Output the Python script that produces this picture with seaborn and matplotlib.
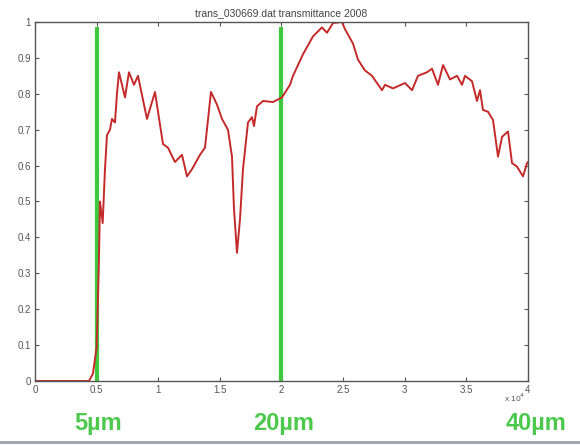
import matplotlib
matplotlib.use("Agg")
import matplotlib.pyplot as plt
import matplotlib.ticker as mticker
import matplotlib.transforms as mtrans
import seaborn as sns
import pandas as pd

# ---- data ----
x_vals = [0, 4382, 4700, 5006, 5193, 5274, 5493, 5680, 5842, 6085, 6248, 6491, 6653,
          6816, 7303, 7627, 8033, 8357, 9088, 9737, 10386, 10791, 11359, 11927,
          12333, 12739, 13388, 13794, 14280, 14767, 15173, 15660, 15984, 16147,
          16390, 16633, 16877, 17283, 17607, 17770, 18013, 18500, 19311, 20041,
          20691, 20934, 21746, 22557, 23287, 23693, 24180, 24910, 25153, 25802,
          26208, 26776, 27344, 27750, 28156, 28400, 29049, 30022, 30590, 31077,
          31807, 32213, 32700, 33106, 33674, 34242, 34648, 34891, 35459, 35864,
          36108, 36351, 36757, 37163, 37569, 37894, 38381, 38705, 39111, 39598,
          39922, 40000]
transmittance = [0.0, 0.0, 0.02, 0.095, 0.34, 0.50, 0.44, 0.59, 0.685, 0.70, 0.73, 0.72,
                 0.80, 0.86, 0.79, 0.86, 0.825, 0.85, 0.73, 0.805, 0.66, 0.65,
                 0.61, 0.63, 0.57, 0.59, 0.63, 0.65, 0.805, 0.77, 0.73, 0.70,
                 0.625, 0.48, 0.357, 0.45, 0.59, 0.72, 0.735, 0.71, 0.765, 0.78,
                 0.777, 0.79, 0.825, 0.85, 0.91, 0.96, 0.985, 0.97, 0.997, 1.0,
                 0.98, 0.94, 0.895, 0.865, 0.85, 0.83, 0.81, 0.825, 0.815, 0.83,
                 0.81, 0.85, 0.86, 0.87, 0.825, 0.88, 0.84, 0.85, 0.825, 0.85,
                 0.835, 0.78, 0.81, 0.755, 0.75, 0.727, 0.625, 0.68, 0.695,
                 0.607, 0.597, 0.57, 0.607, 0.61]
marker_x = [5000, 20000]
marker_top = 0.985
band_labels = ["5µm", "20µm", "40µm"]
band_label_x = [5000, 20000, 40000]
title = "trans_030669.dat transmittance 2008"

df = pd.DataFrame({"x": x_vals, "T": transmittance})

sns.set_theme(style="white")
plt.rcParams["font.family"] = ["Liberation Sans", "DejaVu Sans"]

fig = plt.figure(figsize=(5.8, 4.45), dpi=100)
ax = fig.add_axes([0.0603, 0.1438, 0.8500, 0.8068])

ax.vlines(marker_x, 0, marker_top, colors="#3ec83e", linewidth=3, zorder=1)
sns.lineplot(data=df, x="x", y="T", ax=ax, color="#c42a2a", linewidth=1.4,
             zorder=2)

ax.set_xlim(0, 40000)
ax.set_ylim(0, 1)
ax.set_xticks([i * 5000 for i in range(9)])
ax.xaxis.set_major_formatter(mticker.FuncFormatter(lambda v, p: f"{v/1e4:g}"))
ax.set_yticks([i / 10 for i in range(11)])
ax.yaxis.set_major_formatter(mticker.FuncFormatter(lambda v, p: f"{v:g}"))
ax.set_xlabel("")
ax.set_ylabel("")
ax.set_title(title, fontsize=7.5, color="#444444", pad=4)

for s in ax.spines.values():
    s.set_color("#555555")
    s.set_linewidth(1.0)
    s.set_visible(True)
ax.tick_params(direction="in", length=3, width=0.8, color="#555555",
               labelsize=7, labelcolor="#555555", top=True, right=True,
               bottom=True, left=True, pad=3)

ax.text(0.995, -0.03, "x 10$^4$", transform=ax.transAxes, fontsize=6,
        color="#555555", ha="right", va="top")

offsets = [2, 2, 8]
for lab, lx, off in zip(band_labels, band_label_x, offsets):
    tr = ax.get_xaxis_transform() + mtrans.ScaledTranslation(off / 100, 0, fig.dpi_scale_trans)
    ax.text(lx, -0.085, lab, transform=tr,
            fontsize=17, fontweight="bold", color="#4cc84c",
            ha="center", va="top", clip_on=False)

fig.add_artist(plt.Line2D([0, 1], [0.006, 0.006], color="#9aa3aa",
                          linewidth=2, transform=fig.transFigure))

fig.savefig("out.png", dpi=100)
